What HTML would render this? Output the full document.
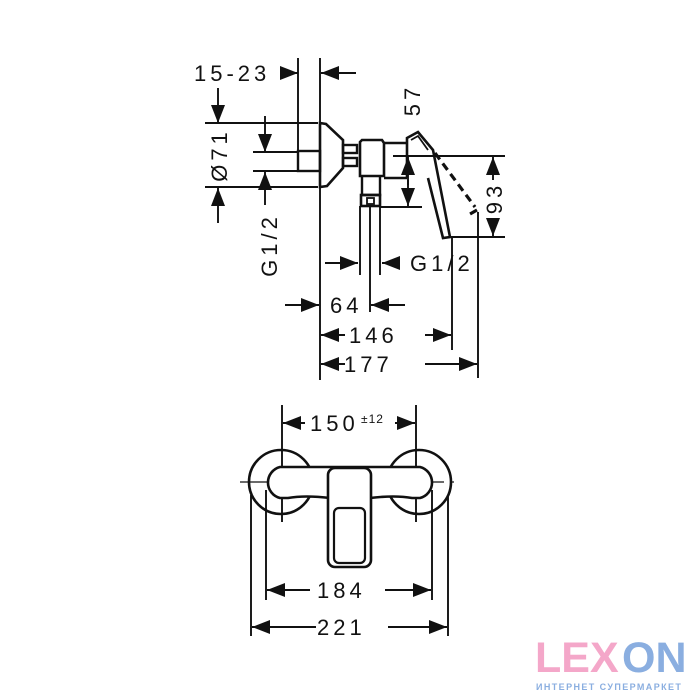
<!DOCTYPE html>
<html><head><meta charset="utf-8"><style>
body{margin:0;background:#fff;width:700px;height:700px;overflow:hidden}
svg{display:block}
text{font-family:"Liberation Sans",sans-serif;fill:#111}
</style></head><body>
<svg width="700" height="700" viewBox="0 0 700 700">
<defs>
<marker id="a" markerWidth="18" markerHeight="14" refX="18" refY="7" orient="auto" markerUnits="userSpaceOnUse">
<path d="M0,0 L18,7 L0,14 Z" fill="#111"/></marker>
</defs>
<g stroke="#111" stroke-width="1.9" fill="none">
<line x1="298" y1="58" x2="298" y2="151"/>
<line x1="320" y1="58" x2="320" y2="380"/>
<line x1="280" y1="73" x2="298" y2="73" marker-end="url(#a)"/>
<line x1="356" y1="73" x2="321" y2="73" marker-end="url(#a)"/>
<line x1="205" y1="123" x2="318" y2="123"/>
<line x1="205" y1="187" x2="318" y2="187"/>
<line x1="218" y1="88" x2="218" y2="123" marker-end="url(#a)"/>
<line x1="218" y1="223" x2="218" y2="188" marker-end="url(#a)"/>
<line x1="253" y1="152" x2="298" y2="152"/>
<line x1="253" y1="171" x2="298" y2="171"/>
<line x1="265" y1="116" x2="265" y2="152" marker-end="url(#a)"/>
<line x1="265" y1="205" x2="265" y2="172" marker-end="url(#a)"/>
<rect x="298" y="151" width="22" height="20" stroke-width="2.4"/>
<path d="M320,123 L326,124 L343,140 L343,168 L327,186 L320,187 Z" stroke-width="2.6"/>
<rect x="343" y="145" width="14" height="8" stroke-width="2.4"/>
<rect x="343" y="158" width="14" height="8" stroke-width="2.4"/>
<path d="M360,142 L362,140 L382,140 L384,143 L384,176 L360,176 Z" stroke-width="2.6"/>
<path d="M362,176 L362,195 L380,195 L380,176" stroke-width="2.4"/>
<rect x="361" y="195" width="19" height="11" stroke-width="2.6"/>
<rect x="367" y="198" width="7" height="6" stroke-width="1.8"/>
<path d="M384,143 L408,143 M384,178 L407,178" stroke-width="2.4"/>
<line x1="360" y1="206" x2="360" y2="275"/>
<line x1="380" y1="206" x2="380" y2="275"/>
<line x1="370" y1="206" x2="370" y2="312"/>
<path d="M407,178 L407,138 L418,132 L433,150 L450,237 L443,238 L428,178" stroke-width="2.6"/>
<path d="M411,140 L418,136 L428,150" stroke-width="1.8"/>
<path d="M435,153 L475,207 M477,210 L470,214" stroke-width="3.2" stroke-dasharray="8,5"/>
<line x1="393" y1="156" x2="505" y2="156"/>
<line x1="380" y1="207" x2="422" y2="207"/>
<line x1="408" y1="185" x2="408" y2="157" marker-end="url(#a)"/>
<line x1="408" y1="180" x2="408" y2="206" marker-end="url(#a)"/>
<line x1="450" y1="237" x2="505" y2="237"/>
<line x1="493" y1="180" x2="493" y2="157" marker-end="url(#a)"/>
<line x1="493" y1="218" x2="493" y2="236" marker-end="url(#a)"/>
<line x1="325" y1="263" x2="358" y2="263" marker-end="url(#a)"/>
<line x1="400" y1="263" x2="382" y2="263" marker-end="url(#a)"/>
<line x1="452" y1="238" x2="452" y2="350"/>
<line x1="478" y1="212" x2="478" y2="378"/>
<line x1="285" y1="305" x2="319" y2="305" marker-end="url(#a)"/>
<line x1="405" y1="305" x2="371" y2="305" marker-end="url(#a)"/>
<line x1="345" y1="335" x2="321" y2="335" marker-end="url(#a)"/>
<line x1="425" y1="335" x2="451" y2="335" marker-end="url(#a)"/>
<line x1="345" y1="364" x2="321" y2="364" marker-end="url(#a)"/>
<line x1="425" y1="364" x2="477" y2="364" marker-end="url(#a)"/>

<line x1="282" y1="405" x2="282" y2="522"/>
<line x1="416" y1="405" x2="416" y2="522"/>
<line x1="305" y1="423" x2="283" y2="423" marker-end="url(#a)"/>
<line x1="395" y1="423" x2="415" y2="423" marker-end="url(#a)"/>
<line x1="240" y1="482" x2="460" y2="482" stroke-width="1.3" stroke-dasharray="28,6,4,6"/>
<circle cx="281" cy="482" r="32" stroke-width="2.6"/>
<circle cx="419" cy="482" r="32" stroke-width="2.6"/>
<path d="M280,467 L420,467 A16,16 0 0 1 420,498 L412,498 Q395,495 370,498 L330,498 Q305,495 288,498 L280,498 A16,16 0 0 1 280,467 Z" fill="#fff" stroke-width="2.6"/>
<rect x="328" y="468" width="43" height="99" rx="7" fill="#fff" stroke-width="2.6"/>
<rect x="334" y="508" width="31" height="55" rx="5" stroke-width="2.2"/>
<line x1="266" y1="490" x2="266" y2="600"/>
<line x1="432" y1="490" x2="432" y2="600"/>
<line x1="251" y1="495" x2="251" y2="636"/>
<line x1="448" y1="495" x2="448" y2="636"/>
<line x1="310" y1="590" x2="267" y2="590" marker-end="url(#a)"/>
<line x1="385" y1="590" x2="431" y2="590" marker-end="url(#a)"/>
<line x1="316" y1="627" x2="252" y2="627" marker-end="url(#a)"/>
<line x1="388" y1="627" x2="447" y2="627" marker-end="url(#a)"/>
</g>
<g font-size="22" letter-spacing="4">
<text x="194" y="81">15-23</text>
<text x="0" y="0" transform="translate(227,155) rotate(-90)" text-anchor="middle">Ø71</text>
<text x="0" y="0" transform="translate(277,245) rotate(-90)" text-anchor="middle">G1/2</text>
<text x="0" y="0" transform="translate(420,100) rotate(-90)" text-anchor="middle">57</text>
<text x="0" y="0" transform="translate(502,198) rotate(-90)" text-anchor="middle">93</text>
<text x="410" y="271">G1/2</text>
<text x="330" y="313">64</text>
<text x="349" y="343">146</text>
<text x="344" y="372">177</text>
<text x="310" y="431">150</text>
<text x="317" y="598">184</text>
<text x="317" y="635">221</text>
</g>
<text x="361" y="423" font-size="12" letter-spacing="1">±12</text>
<g font-family="Liberation Sans" font-weight="bold">
<text x="535" y="672" font-size="43" style="fill:#f4a7c9">LEX</text>
<text x="622" y="672" font-size="43" style="fill:#8aaee0">ON</text>
<text x="536" y="690" font-size="9" letter-spacing="1.4" style="fill:#8aaee0">ИНТЕРНЕТ СУПЕРМАРКЕТ</text>
</g>
</svg>
</body></html>
